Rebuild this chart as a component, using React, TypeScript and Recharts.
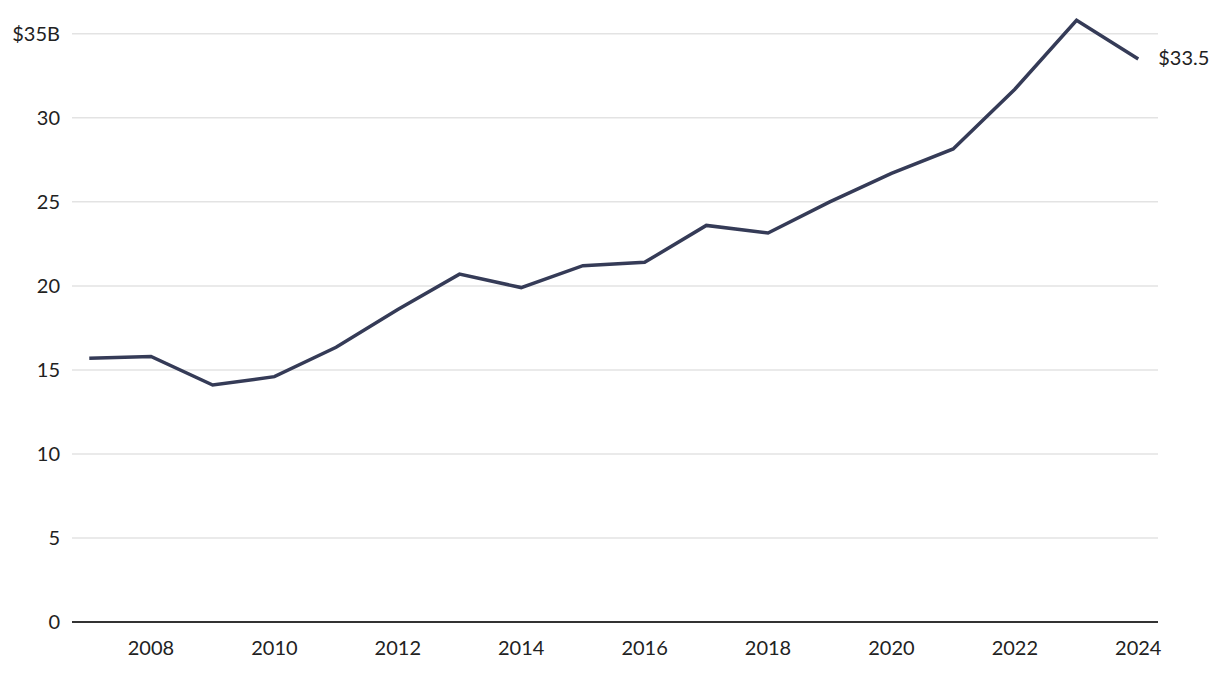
import { LineChart, Line, XAxis, YAxis, CartesianGrid } from "recharts"

const years = [2007, 2008, 2009, 2010, 2011, 2012, 2013, 2014, 2015, 2016, 2017, 2018, 2019, 2020, 2021, 2022, 2023, 2024]
const values = [15.7, 15.8, 14.1, 14.6, 16.35, 18.6, 20.7, 19.9, 21.2, 21.4, 23.6, 23.15, 25.0, 26.7, 28.15, 31.7, 35.8, 33.5]
const xTicks = [2008, 2010, 2012, 2014, 2016, 2018, 2020, 2022, 2024]
const yTicks = [0, 5, 10, 15, 20, 25, 30, 35]

const data = years.map((year, i) => ({ year, value: values[i] }))

const font = "Lato, 'Noto Sans', sans-serif"

function EndLabel(props: any) {
  const { x, y, index, value } = props
  if (index !== values.length - 1) return null
  return (
    <text x={x + 20} y={y} dy={6} fontSize={20} fill="#222" fontFamily={font}>
      ${value}
    </text>
  )
}

export default function App() {
  return (
    <div style={{ position: "absolute", left: 0, top: 0, background: "#fff" }}>
      <LineChart
        width={1220}
        height={674}
        data={data}
        margin={{ top: 17, right: 62, bottom: 0, left: 0 }}
      >
        <CartesianGrid vertical={false} horizontalValues={yTicks} stroke="#e3e3e3" strokeWidth={1.5} />
        <XAxis
          dataKey="year"
          type="number"
          domain={[2006.72, 2024.32]}
          ticks={xTicks}
          height={52}
          tickLine={false}
          tickSize={0}
          tickMargin={19}
          axisLine={{ stroke: "#333", strokeWidth: 2 }}
          tick={{ fontSize: 20, fill: "#222", fontFamily: font }}
        />
        <YAxis
          domain={[0, 36]}
          ticks={yTicks}
          width={72}
          axisLine={false}
          tickLine={false}
          tickSize={0}
          tickMargin={12}
          tickFormatter={(v: number) => (v === 35 ? "$35B" : String(v))}
          tick={{ fontSize: 20, fill: "#222", fontFamily: font }}
        />
        <Line
          type="linear"
          dataKey="value"
          stroke="#353b57"
          strokeWidth={3.5}
          dot={false}
          isAnimationActive={false}
          label={<EndLabel />}
        />
      </LineChart>
    </div>
  )
}
